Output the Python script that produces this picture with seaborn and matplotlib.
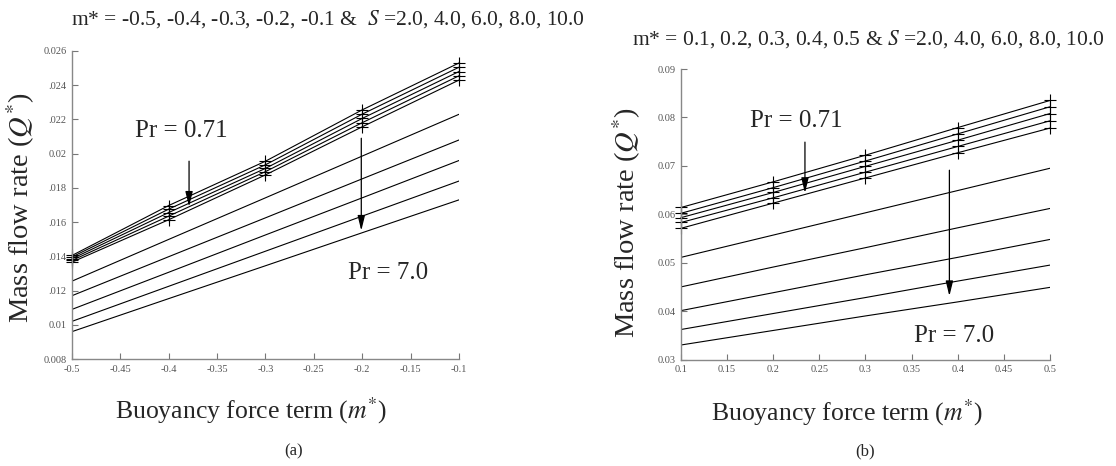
import numpy as np
import pandas as pd
import matplotlib
matplotlib.use("Agg")
import matplotlib.pyplot as plt
import seaborn as sns

# values (Pr = 0.71 bundle, Pr = 7.0 fan), S = 2..10
m_neg = [-0.5, -0.4, -0.3, -0.2, -0.1]
m_pos = [0.1, 0.2, 0.3, 0.4, 0.5]
S_vals = [2.0, 4.0, 6.0, 8.0, 10.0]

q_neg_pr071 = [
    [0.01405, 0.01697, 0.01956, 0.02256, 0.02530],
    [0.01396, 0.01676, 0.01935, 0.02231, 0.02505],
    [0.01386, 0.01656, 0.01914, 0.02206, 0.02480],
    [0.01376, 0.01635, 0.01895, 0.02181, 0.02455],
    [0.01366, 0.01614, 0.01876, 0.02157, 0.02430],
]
q_neg_pr7 = [
    [0.01255, 0.01499, 0.01742, 0.01986, 0.02230],
    [0.01170, 0.01398, 0.01625, 0.01853, 0.02080],
    [0.01090, 0.01307, 0.01525, 0.01742, 0.01960],
    [0.01020, 0.01225, 0.01430, 0.01635, 0.01840],
    [0.00960, 0.01153, 0.01345, 0.01538, 0.01730],
]
q_pos_pr071 = [
    [0.0614, 0.0667, 0.0722, 0.0779, 0.0835],
    [0.0602, 0.0655, 0.0710, 0.0766, 0.0822],
    [0.0593, 0.0645, 0.0699, 0.0753, 0.0808],
    [0.0583, 0.0634, 0.0687, 0.0740, 0.0793],
    [0.0571, 0.0623, 0.0675, 0.0727, 0.0778],
]
q_pos_pr7 = [
    [0.0511, 0.0557, 0.0603, 0.0649, 0.0695],
    [0.0450, 0.0491, 0.0531, 0.0572, 0.0612],
    [0.0401, 0.0438, 0.0475, 0.0511, 0.0548],
    [0.0362, 0.0395, 0.0428, 0.0462, 0.0495],
    [0.0330, 0.0360, 0.0390, 0.0419, 0.0449],
]

yticks_a = [0.008, 0.010, 0.012, 0.014, 0.016, 0.018, 0.020, 0.022, 0.024, 0.026]
yticklabels_a = ["0.008", "0.01", ".012", ".014", ".016", ".018", "0.02", ".022", ".024", "0.026"]
xticks_a = [-0.5, -0.45, -0.4, -0.35, -0.3, -0.25, -0.2, -0.15, -0.1]
xticklabels_a = ["-0.5", "-0.45", "-0.4", "-0.35", "-0.3", "-0.25", "-0.2", "-0.15", "-0.1"]
yticks_b = [0.03, 0.04, 0.05, 0.06, 0.07, 0.08, 0.09]
yticklabels_b = ["0.03", "0.04", "0.05", "0.06", "0.07", "0.08", "0.09"]
xticks_b = [0.1, 0.15, 0.2, 0.25, 0.3, 0.35, 0.4, 0.45, 0.5]
xticklabels_b = ["0.1", "0.15", "0.2", "0.25", "0.3", "0.35", "0.4", "0.45", "0.5"]

sns.set_style("ticks")
plt.rcParams["font.family"] = ["Liberation Serif", "DejaVu Serif"]
plt.rcParams["mathtext.fontset"] = "stix"


def long_frame(m, rows, pr):
    recs = []
    for s, row in zip(S_vals, rows):
        for x, q in zip(m, row):
            recs.append({"m": x, "Q": q, "S": s, "Pr": pr})
    return pd.DataFrame(recs)


fig = plt.figure(figsize=(11.16, 4.66), dpi=100)
ax_a = fig.add_axes([0.0645, 0.2296, 0.3468, 0.661])
ax_b = fig.add_axes([0.6102, 0.2285, 0.3306, 0.6234])

panels = [
    (ax_a, m_neg, q_neg_pr071, q_neg_pr7),
    (ax_b, m_pos, q_pos_pr071, q_pos_pr7),
]
for ax, m, top, low in panels:
    d_top = long_frame(m, top, 0.71)
    d_low = long_frame(m, low, 7.0)
    sns.lineplot(data=d_top, x="m", y="Q", units="S", estimator=None, color="black",
                 lw=0.8, marker="+", markersize=8.5, markeredgewidth=0.8,
                 markeredgecolor="black", clip_on=False, ax=ax)
    sns.lineplot(data=d_low, x="m", y="Q", units="S", estimator=None, color="black",
                 lw=0.8, ax=ax)

# axes cosmetics
for ax, xt, xtl, yt, ytl in [
    (ax_a, xticks_a, xticklabels_a, yticks_a, yticklabels_a),
    (ax_b, xticks_b, xticklabels_b, yticks_b, yticklabels_b),
]:
    ax.set_xlim(xt[0], xt[-1])
    ax.set_ylim(yt[0], yt[-1])
    ax.set_xticks(xt)
    ax.set_xticklabels(xtl)
    ax.set_yticks(yt)
    ax.set_yticklabels(ytl)
    ax.tick_params(direction="in", length=4, width=0.8, colors="#777777",
                   labelcolor="#555555", labelsize=7.5, pad=4)
    sns.despine(ax=ax)
    for side in ["left", "bottom"]:
        ax.spines[side].set_color("#888888")
        ax.spines[side].set_linewidth(1.0)
    ax.set_xlabel(r"Buoyancy force term ($m^{*}$)", fontsize=18.5)
    ax.set_ylabel(r"Mass flow rate ($Q^{*}$)", fontsize=20.5)

ax_a.xaxis.set_label_coords(0.463, -0.117)
ax_a.yaxis.set_label_coords(-0.09, 0.49)
ax_b.xaxis.set_label_coords(0.45, -0.132)
ax_b.yaxis.set_label_coords(-0.103, 0.47)

arrow = dict(arrowstyle="-|>,head_width=0.22,head_length=0.9", color="black", lw=0.9,
             shrinkA=0, shrinkB=0)

# panel (a) annotations
ax_a.text(-0.387, 0.02132, "Pr = 0.71", fontsize=18, ha="center", va="center")
ax_a.annotate("", xy=(-0.379, 0.0169), xytext=(-0.379, 0.01956), arrowprops=arrow)
ax_a.annotate("", xy=(-0.201, 0.0155), xytext=(-0.201, 0.0209), arrowprops=arrow)
ax_a.text(-0.173, 0.01303, "Pr = 7.0", fontsize=18, ha="center", va="center")

# panel (b) annotations
ax_b.text(0.2247, 0.0792, "Pr = 0.71", fontsize=18, ha="center", va="center")
ax_b.annotate("", xy=(0.2344, 0.0644), xytext=(0.2344, 0.0749), arrowprops=arrow)
ax_b.annotate("", xy=(0.391, 0.0431), xytext=(0.391, 0.0691), arrowprops=arrow)
ax_b.text(0.396, 0.03486, "Pr = 7.0", fontsize=18, ha="center", va="center")

# titles and captions
fig.text(328 / 1116, 1 - 19 / 466,
         r"m* = -0.5, -0.4, -0.3, -0.2, -0.1 &  $S$ =2.0, 4.0, 6.0, 8.0, 10.0",
         fontsize=15.5, ha="center", va="center")
fig.text(868 / 1116, 1 - 39 / 466,
         r"m* = 0.1, 0.2, 0.3, 0.4, 0.5 & $S$ =2.0, 4.0, 6.0, 8.0, 10.0",
         fontsize=15.5, ha="center", va="center")
fig.text(294 / 1116, 1 - 451 / 466, "(a)", fontsize=12, ha="center", va="center")
fig.text(865 / 1116, 1 - 451 / 466, "(b)", fontsize=12, ha="center", va="center")

fig.savefig("out.png", dpi=100)
